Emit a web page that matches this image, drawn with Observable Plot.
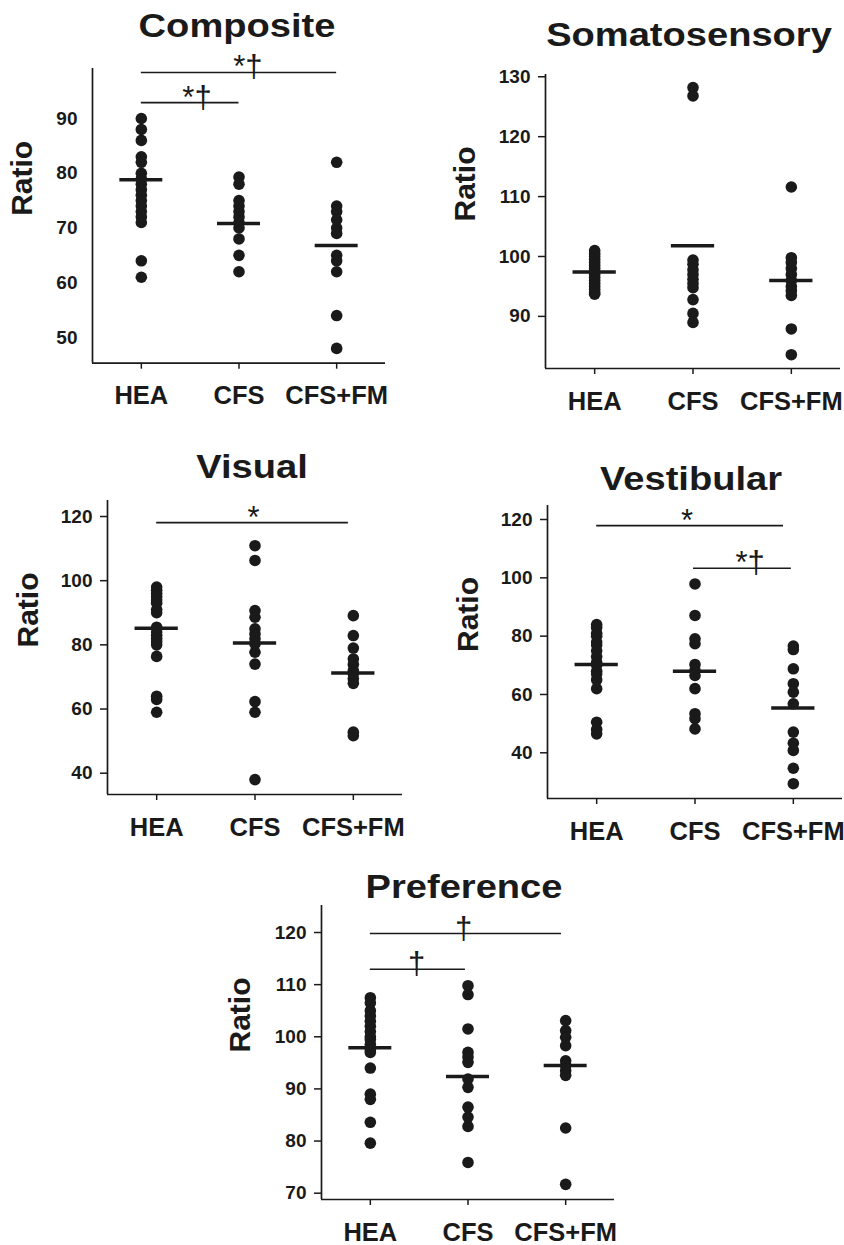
<!DOCTYPE html>
<html><head><meta charset="utf-8">
<script src="https://cdn.jsdelivr.net/npm/d3@7"></script>
<script src="https://cdn.jsdelivr.net/npm/@observablehq/plot@0.6"></script>
<style>
body{margin:0;background:#fff;font-family:"Liberation Sans",Arial,sans-serif;}
#wrap{position:relative;width:844px;height:1245px;overflow:hidden;background:#fff;}
.panel{position:absolute;}
.title{position:absolute;width:400px;text-align:center;font-weight:bold;font-size:34px;line-height:34px;transform:scaleX(1.12);transform-origin:center;color:#1a1a1a;z-index:2;white-space:nowrap;}
</style></head><body><div id="wrap"></div>
<script>
const groups = ["HEA", "CFS", "CFS+FM"];

// Composite
const compHEA = [90, 88, 86, 83, 82, 80, 79, 78, 77, 76, 75, 74, 73, 72, 71, 64, 61];
const compCFS = [79.3, 78, 75, 74, 73, 72, 71, 70, 68, 65, 62];
const compFM = [82, 74, 73, 71.5, 70, 69, 65, 64, 62, 54, 48];
const compMean = [78.8, 70.8, 66.8];
const compTicks = [50, 60, 70, 80, 90];
const compBrackets = [
  {x1: 0, x2: 1, y: 92.9, label: "*†", lx: 0.57},
  {x1: 0, x2: 2, y: 98.4, label: "*†", lx: 1.09}
];

// Somatosensory
const somHEA = [101, 100.5, 100, 99.5, 99, 98.5, 98, 97.5, 97, 96.5, 96, 95.5, 95, 94.5, 94, 93.7];
const somCFS = [128.2, 126.8, 99.4, 98.7, 97.8, 97, 96.2, 95.5, 94.8, 92.8, 90.5, 89];
const somFM = [111.6, 99.8, 99, 98, 97, 96, 95, 94.3, 93.5, 87.9, 83.6];
const somMean = [97.4, 101.8, 96.0];
const somTicks = [90, 100, 110, 120, 130];
const somBrackets = [];

// Visual
const visHEA = [98, 97, 96, 95, 94, 93, 91, 90, 85.5, 84, 83, 82, 81, 80, 76.4, 64, 63, 59];
const visCFS = [110.9, 106.3, 90.7, 88.6, 85, 83.4, 81.9, 80.3, 77.7, 74, 62.3, 59, 38];
const visFM = [89.1, 82.9, 79, 75.6, 73.9, 72, 71, 69.4, 68, 52.8, 51.7];
const visMean = [85.2, 80.6, 71.2];
const visTicks = [40, 60, 80, 100, 120];
const visBrackets = [
  {x1: 0, x2: 1.95, y: 118.1, label: "*", lx: 0.985}
];

// Vestibular
const vesHEA = [84, 83, 81, 80, 78, 77, 75, 73, 71, 70, 68, 67, 65, 62, 50.5, 48, 46.5];
const vesCFS = [97.9, 87.1, 79.1, 77.4, 70.3, 68.2, 66.5, 62, 53.4, 51.7, 48.2];
const vesFM = [76.6, 75.4, 68.8, 63.7, 60.8, 56.8, 47.1, 43.3, 40.8, 34.7, 29.4];
const vesMean = [70.3, 68, 55.4];
const vesTicks = [40, 60, 80, 100, 120];
const vesBrackets = [
  {x1: 0, x2: 1.9, y: 117.9, label: "*", lx: 0.92},
  {x1: 0.985, x2: 1.98, y: 103.3, label: "*†", lx: 1.56}
];

// Preference
const preHEA = [107.5, 106.5, 105, 104, 103, 102, 101, 100, 99.5, 98.5, 97.5, 97, 94, 89, 88, 83.6, 79.6];
const preCFS = [109.8, 108.1, 101.5, 97, 96.1, 95.1, 91.9, 90.3, 86.5, 84.6, 82.8, 75.9];
const preFM = [103.1, 101.2, 99.9, 98.3, 95.4, 94.5, 93.5, 92.6, 82.5, 71.7];
const preMean = [97.9, 92.4, 94.5];
const preTicks = [70, 80, 90, 100, 110, 120];
const preBrackets = [
  {x1: 0, x2: 0.974, y: 112.96, label: "†", lx: 0.473},
  {x1: 0, x2: 1.957, y: 119.8, label: "†", lx: 0.954}
];

const panels = [
  {title: "Composite", titleX: 237, titleBase: 37, left: 0, top: 40, width: 410, height: 390,
   m: [28, 25, 67.3, 92], yDomain: [45.3, 99.13], ticks: compTicks, yTickSize: 0,
   values: [compHEA, compCFS, compFM], means: compMean, brackets: compBrackets, ratioDx: -70},
  {title: "Somatosensory", titleX: 689, titleBase: 46, left: 420, top: 55, width: 424, height: 375,
   m: [19, 4, 62, 125], yDomain: [81.3, 130.38], ticks: somTicks, yTickSize: 7,
   values: [somHEA, somCFS, somFM], means: somMean, brackets: somBrackets, ratioDx: -80},
  {title: "Visual", titleX: 252, titleBase: 478, left: 0, top: 485, width: 420, height: 360,
   m: [15, 18, 51, 107], yDomain: [33.36, 124.99], ticks: visTicks, yTickSize: 7,
   values: [visHEA, visCFS, visFM], means: visMean, brackets: visBrackets, ratioDx: -79},
  {title: "Vestibular", titleX: 691, titleBase: 490, left: 420, top: 495, width: 424, height: 350,
   m: [10, 2, 47, 127], yDomain: [24.33, 124.8], ticks: vesTicks, yTickSize: 7,
   values: [vesHEA, vesCFS, vesFM], means: vesMean, brackets: vesBrackets, ratioDx: -79},
  {title: "Preference", titleX: 464, titleBase: 898, left: 200, top: 900, width: 440, height: 345,
   m: [5, 26, 46, 121], yDomain: [68.79, 125.18], ticks: preTicks, yTickSize: 7,
   values: [preHEA, preCFS, preFM], means: preMean, brackets: preBrackets, ratioDx: -81}
];

const wrap = document.getElementById("wrap");
const ink = "#1a1a1a";

for (const p of panels) {
  const points = p.values.flatMap((arr, i) => arr.map(v => ({g: i, v})));
  const meanRows = p.means.map((v, i) => ({g: i, v}));
  const chart = Plot.plot({
    width: p.width,
    height: p.height,
    marginTop: p.m[0], marginRight: p.m[1], marginBottom: p.m[2], marginLeft: p.m[3],
    style: {background: "transparent", fontFamily: "'Liberation Sans', Arial, sans-serif", fontWeight: "bold", color: ink, overflow: "visible"},
    x: {domain: [-0.5, 2.5]},
    y: {domain: p.yDomain},
    marks: [
      Plot.ruleY([p.yDomain[0]], {stroke: ink, strokeWidth: 1.7}),
      Plot.ruleX([-0.5], {stroke: ink, strokeWidth: 1.7}),
      Plot.axisY({ticks: p.ticks, tickSize: p.yTickSize, tickPadding: p.yTickSize ? 8 : 15, fontSize: 19, fontWeight: "bold", label: null, strokeWidth: 1.5}),
      Plot.axisX({ticks: [0, 1, 2], tickFormat: i => groups[i], tickSize: 6, tickPadding: 17, fontSize: 25.5, fontWeight: "bold", label: null, strokeWidth: 1.5}),
      Plot.dot(points, {x: "g", y: "v", r: 5.8, fill: ink}),
      Plot.ruleY(meanRows, {x1: d => d.g - 0.22, x2: d => d.g + 0.22, y: "v", stroke: ink, strokeWidth: 3.5}),
      Plot.ruleY(p.brackets, {x1: "x1", x2: "x2", y: "y", stroke: ink, strokeWidth: 1.6}),
      Plot.text(p.brackets, {x: "lx", y: "y", text: "label", lineAnchor: "bottom", dy: 5, fontSize: 31, fontWeight: "normal", fill: ink}),
      Plot.text(["Ratio"], {text: d => d, frameAnchor: "left", rotate: -90, dx: p.ratioDx, fontSize: 30, fontWeight: "bold", fill: ink})
    ]
  });
  chart.classList.add("panel");
  chart.style.left = p.left + "px";
  chart.style.top = p.top + "px";
  wrap.appendChild(chart);

  const t = document.createElement("div");
  t.className = "title";
  t.textContent = p.title;
  t.style.left = (p.titleX - 200) + "px";
  t.style.top = (p.titleBase - 28.8) + "px";
  wrap.appendChild(t);
}
</script>
</body></html>
